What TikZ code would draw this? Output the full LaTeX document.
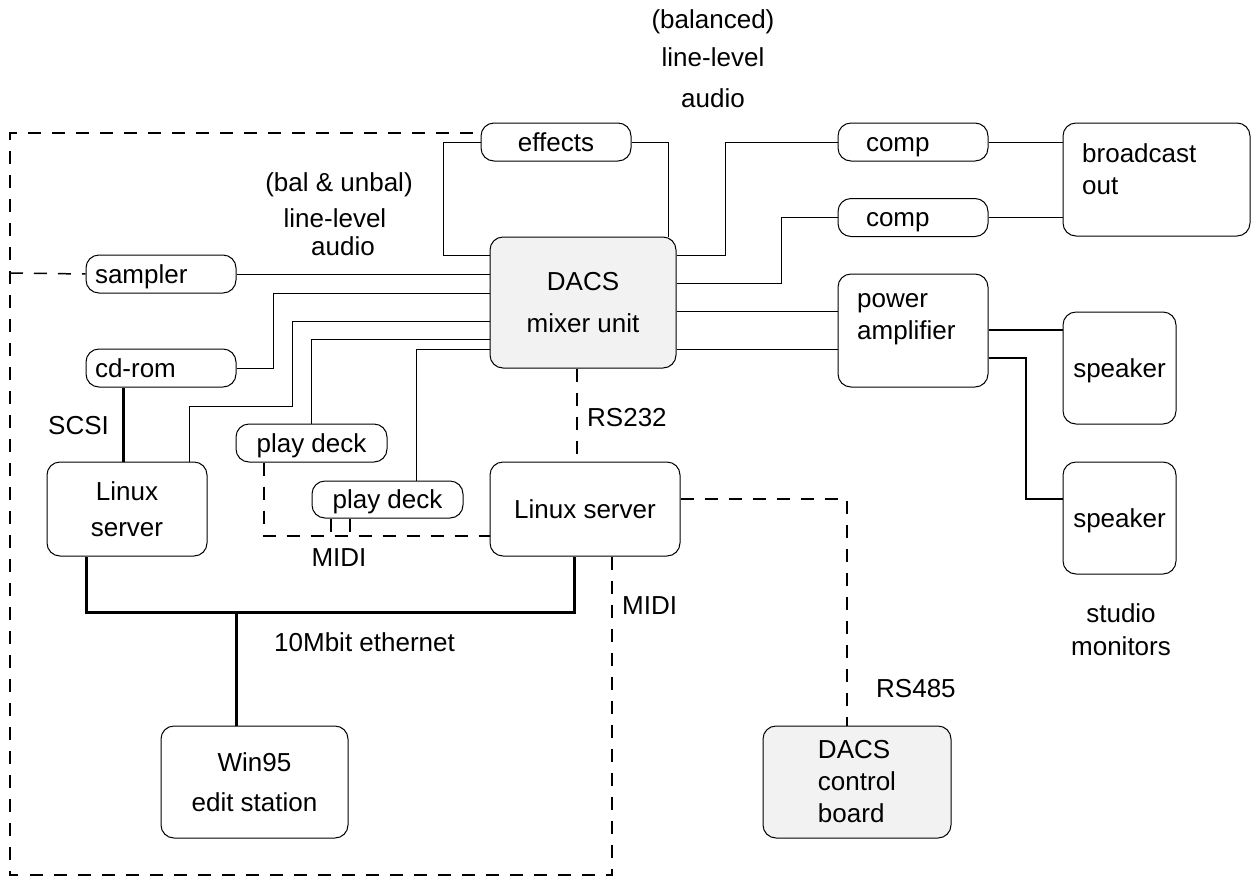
\documentclass[tikz,border=0pt]{standalone}
\usepackage{fontspec}
\setmainfont{Liberation Sans}
\usetikzlibrary{calc}

\definecolor{panel}{HTML}{F2F2F2}
\tikzset{
  unit/.style={draw,rounded corners=13pt,line width=1pt,inner sep=0pt,align=center},
  oneline/.style={text height=18.5pt,text depth=0pt},
  lbl/.style={inner sep=0pt,text height=18.5pt,text depth=0pt},
  wire/.style={line width=1pt},
  feed/.style={line width=2pt},
  bus/.style={line width=3pt},
  ctl/.style={line width=1.5pt,dash pattern=on 13pt off 11pt},
}

\begin{document}
\begin{tikzpicture}[x=1pt,y=-1pt,font=\fontsize{26}{32}\selectfont]
  \useasboundingbox (0,0) rectangle (1251,876);
  \node[unit,oneline,minimum width=150pt,minimum height=38pt] (fx) at (556,142) {effects};
  \node[unit,fill=panel,minimum width=186pt,minimum height=131pt] (mix) at (583,302.5) {DACS\\[10pt]mixer unit};
  \foreach \n/\y/\t in {samp/274/sampler,cd/368/cd-rom}{%
    \node[unit,oneline,align=left,text width=132pt,inner xsep=9pt,minimum height=38pt] (\n) at (161,\y) {\t};
  }
  \foreach \n/\y in {c1/142,c2/217.5}{%
    \node[unit,oneline,align=left,text width=94pt,inner xsep=28pt,minimum height=38pt] (\n) at (913,\y) {comp};
  }
  \node[unit,minimum width=187pt,minimum height=113pt] (bc) at (1156.5,179.5) {};
  \node[unit,minimum width=150pt,minimum height=113pt] (amp) at (913,330.5) {};
  \foreach \n/\y in {sp1/368,sp2/518}{%
    \node[unit,oneline,minimum width=113pt,minimum height=112pt] (\n) at (1119.5,\y) {speaker};
  }
  \node[unit,oneline,minimum width=151pt,minimum height=38pt] (pd1) at (311.5,443) {play deck};
  \node[unit,oneline,minimum width=151pt,minimum height=37pt] (pd2) at (387.5,499.5) {play deck};
  \node[unit,minimum width=160pt,minimum height=94pt] (linL) at (127,509) {Linux\\[4pt]server};
  \node[unit,oneline,minimum width=190pt,minimum height=94pt] (linR) at (585,509) {Linux server};
  \node[unit,minimum width=187pt,minimum height=112pt] (win) at (254.5,782) {Win95\\[8pt]edit station};
  \node[unit,fill=panel,align=left,minimum width=188pt,minimum height=112pt] (board) at (857,782) {DACS\\control\\board};

  \draw[wire] (fx.west) -- (443,142) |- (mix.west |- 0,255);
  \draw[wire] (fx.east) -| (mix.north -| 668,0);
  \draw[wire] (samp.east) -- (mix.west |- samp.east);
  \draw[wire] (cd.east) -| (273,293) -- (mix.west |- 0,293);
  \draw[wire] (mix.west |- 0,321) -| (292,406) -| (linL.north -| 189,0);
  \draw[wire] (mix.west |- 0,339) -| (pd1.north);
  \draw[wire] (mix.west |- 0,349) -| (pd2.north -| 416,0);
  \draw[wire] (mix.east |- 0,255) -| (725,142) -- (c1.west);
  \draw[wire] (mix.east |- 0,283) -| (781,217.5) -- (c2.west);
  \foreach \y in {311,349}{%
    \draw[wire] (mix.east |- 0,\y) -- (amp.west |- 0,\y);
  }
  \foreach \n in {c1,c2}{%
    \draw[wire] (\n.east) -- (bc.west |- \n.east);
  }
  \draw[feed] (amp.east |- 0,330) -- (sp1.west |- 0,330);
  \draw[feed] (amp.east |- 0,358) -| (1026,499) -- (sp2.west |- 0,499);

  \coordinate (tee) at (236,612);
  \draw[bus] (cd.south -| 123,0) -- (linL.north -| 123,0);
  \draw[bus] (linL.south -| 86,0) |- (574,612) -- (linR.south -| 574,0);
  \draw[bus] (tee) -- (win.north -| tee);

  \draw[ctl] (pd1.south -| 264,0) |- (linR.west |- 0,536);
  \foreach \x in {331,350}{%
    \draw[ctl] (pd2.south -| \x,0) -- (\x,536);
  }
  \draw[ctl] (mix.south -| 577,0) -- (linR.north -| 577,0);
  \draw[ctl] (linR.east |- 0,499) -| (board.north -| 847,0);
  \draw[ctl] (linR.south -| 612,0) |- (10,875) |- (fx.west |- 0,133);
  \coordinate (tap) at (10,273);
  \draw[ctl] (tap) -- (samp.west);

  \foreach \n/\x/\y/\t in {tb1/713/19/{(balanced)},tb2/713/57/{line-level},tb3/713/98/{audio},%
    lb1/339/182/{(bal \& unbal)},lb2/335/218/{line-level},lb3/343/246/{audio},%
    midiA/339/557/{MIDI},st1/1121/613/{studio},st2/1121/646/{monitors}}{%
    \node[lbl] (\n) at (\x,\y) {\t};
  }
  \foreach \n/\x/\y/\t in {scsi/48/425/{SCSI},rs232/587/417/{RS232},midiB/622/605/{MIDI},%
    eth/274/642/{10Mbit ethernet},rs485/876/688/{RS485}}{%
    \node[lbl,anchor=west] (\n) at (\x,\y) {\t};
  }
  \node[anchor=west,align=left,inner sep=0pt] (bcT) at (1082,169) {broadcast\\out};
  \node[anchor=west,align=left,inner sep=0pt] (ampT) at (857,319) {power\\amplifier};
\end{tikzpicture}
\end{document}
